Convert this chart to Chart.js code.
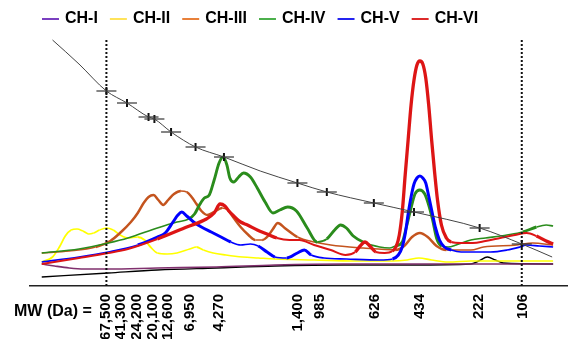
<!DOCTYPE html>
<html>
<head>
<meta charset="utf-8">
<script src="https://cdn.jsdelivr.net/npm/chart.js"></script>
<style>
  body { margin: 0; background: #fff; }
  #wrap { width: 579px; height: 339px; }
</style>
</head>
<body>
<div id="wrap"><canvas id="myChart"></canvas></div>
<script>
// elution position (x) and absorbance (y)
var seriesNames = ["CH-I", "CH-II", "CH-III", "CH-IV", "CH-V", "CH-VI"];

var ch1 = [[42,22],[55,20],[70,18],[85,17],[110,17],[160,18],[220,19],[280,21],[350,22],[420,22],[500,22],[564,22]];

var ch2 = [[42,24],[53,29],[60,39],[66,50],[72,56],[78,57],[84,55],[90,52],[95,53],[101,56],[108,58],[115,56],
  [122,51],[130,48],[140,49],[147,46],[153,39],[160,33],[170,32],[180,33],[193,37],[200,39],[207,36],[217,33],
  [230,31],[247,29],[263,28],[280,27],[320,26],[360,25],[400,25],[415,26],[427,28],[440,26],[457,24],[480,25],
  [520,25],[564,25]];

var ch3 = [[42,33],[70,35],[97,39],[112,45],[123,54],[133,64],[140,73],[146,83],[151,89],[156,91],[161,86],
  [166,81],[171,86],[177,92],[184,95],[190,94],[195,89],[200,82],[205,75],[211,71],[218,74],[226,78],[232,76],
  [238,68],[245,59],[253,51],[260,46],[267,46],[273,50],[278,57],[283,63],[290,58],[303,49],[320,44],[337,41],
  [370,38],[403,36],[412,40],[420,49],[428,53],[436,49],[445,40],[455,36],[480,36],[493,39],[527,41],[543,43],
  [564,41]];

var ch4 = [[42,33],[80,37],[110,43],[130,48],[160,58],[180,64],[192,67],[198,72],[203,81],[208,88],[213,91],
  [218,106],[223,123],[227,129],[231,121],[234,108],[238,104],[243,109],[248,113],[255,109],[262,98],[270,84],
  [278,73],[285,76],[293,79],[302,75],[313,58],[323,44],[333,47],[341,56],[347,61],[353,58],[360,50],[370,44],
  [387,39],[397,38],[403,40],[410,44],[414,58],[418,74],[423,92],[428,96],[433,92],[437,81],[441,66],[445,48],
  [450,40],[457,39],[465,41],[480,46],[495,48],[517,51],[533,54],[547,59],[557,61],[564,60]];

var ch5 = [[42,24],[80,29],[110,34],[140,41],[160,49],[168,53],[176,64],[181,71],[185,74],[190,70],[197,64],
  [205,59],[215,54],[225,49],[235,44],[245,41],[255,42],[263,40],[272,34],[280,29],[292,28],[303,33],[310,36],
  [317,31],[330,28],[353,27],[387,26],[400,27],[406,31],[410,39],[413,52],[416,72],[419,89],[422,102],[425,108],
  [428,110],[431,108],[434,103],[437,90],[440,76],[444,58],[448,46],[453,39],[460,36],[470,34],[483,34],
  [500,34],[517,36],[530,39],[537,41],[550,40],[564,39]];

var ch6 = [[42,22],[80,28],[110,33],[130,37],[160,47],[190,59],[210,67],[218,73],[224,82],[229,80],[233,75],
  [238,70],[245,64],[252,61],[262,56],[272,52],[282,48],[295,46],[305,46],[320,41],[337,36],[352,31],[362,34],
  [367,40],[372,44],[377,40],[383,34],[392,33],[400,35],[404,40],[407,51],[410,74],[413,111],[416,146],[419,181],
  [422,206],[425,221],[428,225],[431,222],[434,208],[437,181],[440,146],[443,114],[446,86],[450,61],[455,48],
  [460,44],[470,43],[482,43],[495,45],[510,48],[525,51],[537,53],[547,50],[557,45],[564,42]];

// detector baseline
var baseline = [[42,9],[110,13],[160,16],[220,18],[280,20],[350,21],[420,21],[480,22],[488,25],[497,29],
  [505,26],[513,23],[564,22]];

// calibration curve and molecular weight standards
var calX = [53, 80, 108, 129, 151, 157, 174, 199, 228, 265, 303, 333, 381, 422, 489, 532, 563];
var calY = [246, 222, 195, 183, 169, 167, 154, 139, 129, 115, 103, 94, 83, 74, 58, 42, 29];
var stdX = [108, 129, 151, 157, 174, 199, 228, 303, 333, 381, 422, 489, 532];
var stdY = [195, 183, 169, 167, 154, 139, 129, 103, 94, 83, 74, 58, 42];

// tick labels
var mwLabels = ["67,500", "41,300", "24,200", "20,100", "12,600", "6,950", "4,270", "1,400", "985", "626", "434", "222", "106"];
var mwTickX = [107, 123, 139, 155, 171, 193, 223, 303, 326, 382, 428, 488, 533];

// exclusion / permeation limits
var limitX = [108, 532];
var limitTop = 246;

var lineColors = ["#80306e", "#ffff00", "#c4541e", "#2a8c1c", "#0000ff", "#dd1515"];
var legendColors = ["#7a3fc0", "#ffe35a", "#e8803a", "#4cb04c", "#2424f0", "#dd2a2a"];
// thin width on flat stretches, thick on steep ones (stepped trace look)
var thinWidths = [1.6, 1.6, 1.5, 1.6, 1.7, 1.9];
var thickWidths = [1.6, 1.8, 2.5, 2.9, 3, 3.3];
var fontFam = '"Liberation Sans", Arial, sans-serif';

function slopeWidth(i) {
  return function (c) {
    var dy = Math.abs(c.p1.parsed.y - c.p0.parsed.y);
    var dx = Math.abs(c.p1.parsed.x - c.p0.parsed.x) || 1;
    return dy / dx > 0.35 ? thickWidths[i] : thinWidths[i];
  };
}

var seriesData = [ch1, ch2, ch3, ch4, ch5, ch6];
var datasets = seriesData.map(function (d, i) {
  return {
    label: seriesNames[i],
    data: d,
    borderColor: lineColors[i],
    borderWidth: thinWidths[i],
    segment: { borderWidth: slopeWidth(i) },
    pointRadius: 0,
    fill: false,
    clip: false,
    cubicInterpolationMode: 'monotone',
    order: 6 - i
  };
});

datasets.push({
  label: "baseline",
  data: baseline,
  borderColor: "#000",
  borderWidth: 1.4,
  pointRadius: 0,
  clip: false,
  cubicInterpolationMode: 'monotone',
  order: 8
});
datasets.push({
  label: "calibration",
  data: calX.map(function (x, i) { return [x, calY[i]]; }),
  borderColor: "#444",
  borderWidth: 1,
  pointRadius: 0,
  clip: false,
  cubicInterpolationMode: 'monotone',
  order: 0
});
datasets.push({
  label: "standards",
  data: stdX.map(function (x, i) { return [x, stdY[i]]; }),
  showLine: false,
  pointStyle: 'line',
  pointRadius: 10,
  pointBorderWidth: 1.2,
  pointBorderColor: "#333",
  clip: false,
  order: 0
});
datasets.push({
  label: "standards2",
  data: stdX.map(function (x, i) { return [x, stdY[i]]; }),
  showLine: false,
  pointStyle: 'line',
  pointRotation: 90,
  pointRadius: 4,
  pointBorderWidth: 2,
  pointBorderColor: "#111",
  clip: false,
  order: 0
});
limitX.forEach(function (x) {
  datasets.push({
    label: "limit",
    data: [[x, limitTop], [x, 0]],
    borderColor: "#111",
    borderWidth: 2,
    borderDash: [2, 2],
    pointRadius: 0,
    clip: false,
    order: 0
  });
});

var mwTitle = {
  id: 'mwTitle',
  afterDraw: function (chart) {
    var c = chart.ctx;
    c.save();
    c.font = 'bold 16px ' + fontFam;
    c.fillStyle = '#000';
    c.textBaseline = 'middle';
    c.fillText('MW (Da) =', 14, 312);
    c.restore();
  }
};

var ctx = document.getElementById("myChart");
var myChart = new Chart(ctx, {
  type: 'line',
  data: { datasets: datasets },
  plugins: [mwTitle],
  options: {
    responsive: true,
    maintainAspectRatio: false,
    animation: false,
    layout: { padding: { left: 30, right: 0, top: -3, bottom: 0 } },
    plugins: {
      tooltip: { enabled: false },
      legend: {
        position: 'top',
        align: 'start',
        labels: {
          usePointStyle: true,
          boxWidth: 13,
          boxHeight: 12,
          padding: 14,
          color: '#000',
          font: { family: fontFam, size: 16, weight: 'bold' },
          generateLabels: function () {
            return seriesNames.map(function (name, i) {
              return {
                text: name,
                strokeStyle: legendColors[i],
                fillStyle: legendColors[i],
                lineWidth: 2,
                pointStyle: 'line',
                hidden: false,
                datasetIndex: i
              };
            });
          }
        }
      }
    },
    scales: {
      x: {
        type: 'linear',
        min: 30,
        max: 579,
        grid: { display: false },
        border: { display: true, color: '#222', width: 1.5 },
        afterBuildTicks: function (scale) {
          scale.ticks = mwTickX.map(function (v) { return { value: v }; });
        },
        afterFit: function (scale) { scale.height = 53; },
        ticks: {
          autoSkip: false,
          minRotation: 90,
          maxRotation: 90,
          padding: 0,
          color: '#000',
          font: { family: fontFam, size: 15, weight: 'bold' },
          callback: function (v, i) { return mwLabels[i]; }
        }
      },
      y: {
        display: false,
        min: 0,
        max: 249
      }
    }
  }
});
</script>
</body>
</html>
